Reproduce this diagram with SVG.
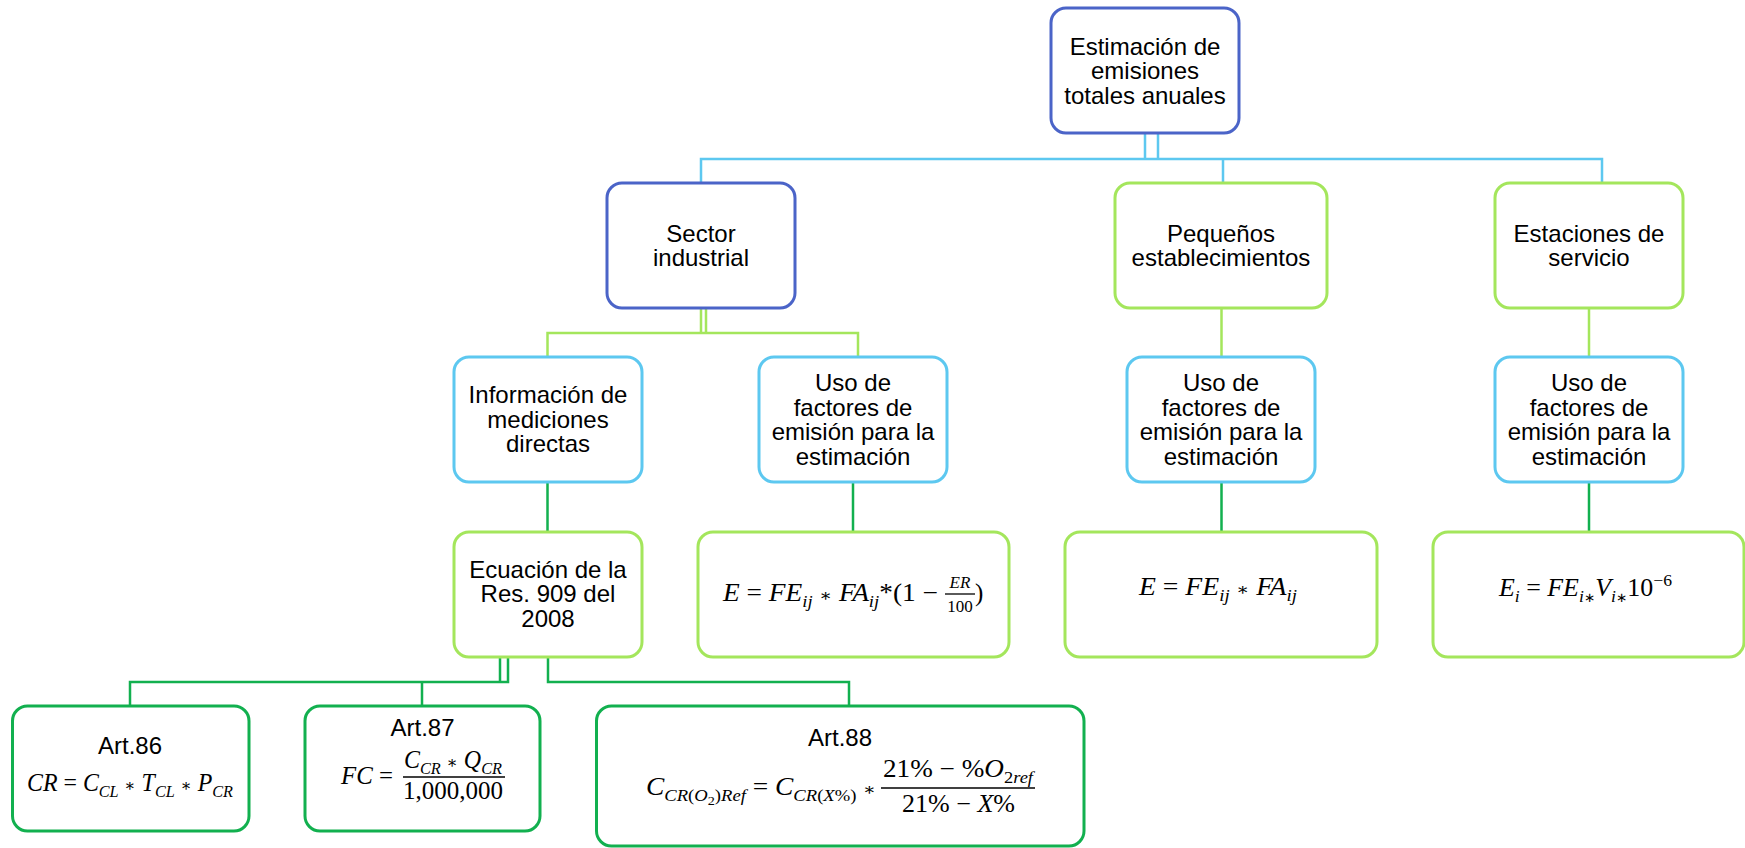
<svg xmlns="http://www.w3.org/2000/svg" width="1745" height="848" viewBox="0 0 1745 848">
<style>
.bx{fill:#fff;stroke-width:3}
.db{stroke:#4B64C8}.lb{stroke:#5DC8F0}.lg{stroke:#A4E65C}.dg{stroke:#12B04F}
.c{fill:none;stroke-width:2.5}
.t{font-family:"Liberation Sans",Arial,sans-serif;font-size:24px;fill:#000;text-anchor:middle}
.m{font-family:"Liberation Serif","Times New Roman",serif;font-size:25px;fill:#000}
.i{font-style:italic}
.s{font-size:17px}
.ss{font-size:13px}
.a{font-size:17px;font-family:"DejaVu Serif",serif}
</style>
<rect width="1745" height="848" fill="#fff"/>
<g id="connectors">
<path class="c lb" d="M701,183 V159 H1602 V183 M1145,133 V159 M1158,133 V159 M1223,159 V183"/>
<path class="c lg" d="M547.5,357 V333 H858 V357 M701,308 V333 M706,308 V333 M1221.5,308 V357 M1589,308 V357"/>
<path class="c dg" d="M547.5,482 V532 M853,482 V532 M1221.5,482 V532 M1589,482 V532 M130,706 V682 H508 V657 M500,657 V682 M422,682 V706 M548,657 V682 H849 V706"/>
</g>
<g id="n-top"><rect class="bx db" x="1051" y="8" width="188" height="125" rx="15"/>
<text class="t" x="1145" y="54.5">Estimación de</text><text class="t" x="1145" y="79">emisiones</text><text class="t" x="1145" y="103.5">totales anuales</text></g>
<g id="n-sector"><rect class="bx db" x="607" y="183" width="188" height="125" rx="15"/>
<text class="t" x="701" y="241.5">Sector</text><text class="t" x="701" y="266">industrial</text></g>
<g id="n-pequenos"><rect class="bx lg" x="1115" y="183" width="212" height="125" rx="15"/>
<text class="t" x="1221" y="241.5">Pequeños</text><text class="t" x="1221" y="266">establecimientos</text></g>
<g id="n-estaciones"><rect class="bx lg" x="1495" y="183" width="188" height="125" rx="15"/>
<text class="t" x="1589" y="241.5">Estaciones de</text><text class="t" x="1589" y="266">servicio</text></g>
<g id="n-info"><rect class="bx lb" x="454" y="357" width="188" height="125" rx="15"/>
<text class="t" x="548" y="403">Información de</text><text class="t" x="548" y="427.5">mediciones</text><text class="t" x="548" y="452">directas</text></g>
<g id="n-uso1"><rect class="bx lb" x="759" y="357" width="188" height="125" rx="15"/>
<text class="t" x="853" y="391">Uso de</text><text class="t" x="853" y="415.5">factores de</text><text class="t" x="853" y="440">emisión para la</text><text class="t" x="853" y="464.5">estimación</text></g>
<g id="n-uso2"><rect class="bx lb" x="1127" y="357" width="188" height="125" rx="15"/>
<text class="t" x="1221" y="391">Uso de</text><text class="t" x="1221" y="415.5">factores de</text><text class="t" x="1221" y="440">emisión para la</text><text class="t" x="1221" y="464.5">estimación</text></g>
<g id="n-uso3"><rect class="bx lb" x="1495" y="357" width="188" height="125" rx="15"/>
<text class="t" x="1589" y="391">Uso de</text><text class="t" x="1589" y="415.5">factores de</text><text class="t" x="1589" y="440">emisión para la</text><text class="t" x="1589" y="464.5">estimación</text></g>
<g id="n-ecuacion"><rect class="bx lg" x="454" y="532" width="188" height="125" rx="15"/>
<text class="t" x="548" y="577.5">Ecuación de la</text><text class="t" x="548" y="602">Res. 909 del</text><text class="t" x="548" y="626.5">2008</text></g>
<g id="n-e1"><rect class="bx lg" x="698" y="532" width="311" height="125" rx="15"/>
<text class="m" x="723" y="601" textLength="215" lengthAdjust="spacingAndGlyphs"><tspan class="i">E</tspan> = <tspan class="i">FE</tspan><tspan class="i s" dy="6">ij</tspan><tspan dy="-6"> </tspan><tspan class="a">∗</tspan> <tspan class="i">FA</tspan><tspan class="i s" dy="6">ij</tspan><tspan dy="-6">*(1 −</tspan></text>
<text class="m i s" x="960" y="588" text-anchor="middle">ER</text>
<line x1="945" y1="594" x2="975" y2="594" stroke="#000" stroke-width="1.3"/>
<text class="m s" x="960" y="612" text-anchor="middle">100</text>
<text class="m" x="975" y="601">)</text></g>
<g id="n-e2"><rect class="bx lg" x="1065" y="532" width="312" height="125" rx="15"/>
<text class="m" x="1139" y="595" textLength="158" lengthAdjust="spacingAndGlyphs"><tspan class="i">E</tspan> = <tspan class="i">FE</tspan><tspan class="i s" dy="6">ij</tspan><tspan dy="-6"> </tspan><tspan class="a">∗</tspan> <tspan class="i">FA</tspan><tspan class="i s" dy="6">ij</tspan></text></g>
<g id="n-e3"><rect class="bx lg" x="1433" y="532" width="311" height="125" rx="15"/>
<text class="m" x="1499" y="596" textLength="173" lengthAdjust="spacingAndGlyphs"><tspan class="i">E</tspan><tspan class="i s" dy="6">i</tspan><tspan dy="-6"> = </tspan><tspan class="i">FE</tspan><tspan class="i s" dy="6">i</tspan><tspan class="ss">∗</tspan><tspan class="i" dy="-6">V</tspan><tspan class="i s" dy="6">i</tspan><tspan class="ss">∗</tspan><tspan dy="-6">10</tspan><tspan class="s" dy="-10">−6</tspan></text></g>
<g id="n-art86"><rect class="bx dg" x="12.5" y="706" width="236.5" height="125" rx="15"/>
<text class="t" x="130" y="754">Art.86</text>
<text class="m" x="27" y="791" textLength="206" lengthAdjust="spacingAndGlyphs"><tspan class="i">CR</tspan> = <tspan class="i">C</tspan><tspan class="i s" dy="6">CL</tspan><tspan dy="-6"> </tspan><tspan class="a">∗</tspan> <tspan class="i">T</tspan><tspan class="i s" dy="6">CL</tspan><tspan dy="-6"> </tspan><tspan class="a">∗</tspan> <tspan class="i">P</tspan><tspan class="i s" dy="6">CR</tspan></text></g>
<g id="n-art87"><rect class="bx dg" x="305" y="706" width="235" height="125" rx="15"/>
<text class="t" x="422.5" y="736">Art.87</text>
<text class="m" x="341" y="784" textLength="52" lengthAdjust="spacingAndGlyphs"><tspan class="i">FC</tspan> =</text>
<text class="m" x="404" y="768" textLength="98" lengthAdjust="spacingAndGlyphs"><tspan class="i">C</tspan><tspan class="i s" dy="6">CR</tspan><tspan dy="-6"> </tspan><tspan class="a">∗</tspan> <tspan class="i">Q</tspan><tspan class="i s" dy="6">CR</tspan></text>
<line x1="403" y1="777" x2="505" y2="777" stroke="#000" stroke-width="1.3"/>
<text class="m" x="403" y="799" textLength="100" lengthAdjust="spacingAndGlyphs">1,000,000</text></g>
<g id="n-art88"><rect class="bx dg" x="596.5" y="706" width="487.5" height="140" rx="15"/>
<text class="t" x="840" y="746">Art.88</text>
<text class="m" x="646" y="795" textLength="230" lengthAdjust="spacingAndGlyphs"><tspan class="i">C</tspan><tspan class="i s" dy="6">CR</tspan><tspan class="s">(</tspan><tspan class="i s">O</tspan><tspan class="ss" dy="4">2</tspan><tspan class="s" dy="-4">)</tspan><tspan class="i s">Ref</tspan><tspan dy="-6"> = </tspan><tspan class="i">C</tspan><tspan class="i s" dy="6">CR</tspan><tspan class="s">(</tspan><tspan class="i s">X</tspan><tspan class="s">%)</tspan><tspan dy="-6"> </tspan><tspan class="a">∗</tspan></text>
<text class="m" x="883" y="777" textLength="150" lengthAdjust="spacingAndGlyphs">21% − %<tspan class="i">O</tspan><tspan class="s" dy="6">2</tspan><tspan class="i s">ref</tspan></text>
<line x1="881" y1="788" x2="1035" y2="788" stroke="#000" stroke-width="1.3"/>
<text class="m" x="902" y="812" textLength="113" lengthAdjust="spacingAndGlyphs">21% − <tspan class="i">X</tspan>%</text></g>
</svg>
